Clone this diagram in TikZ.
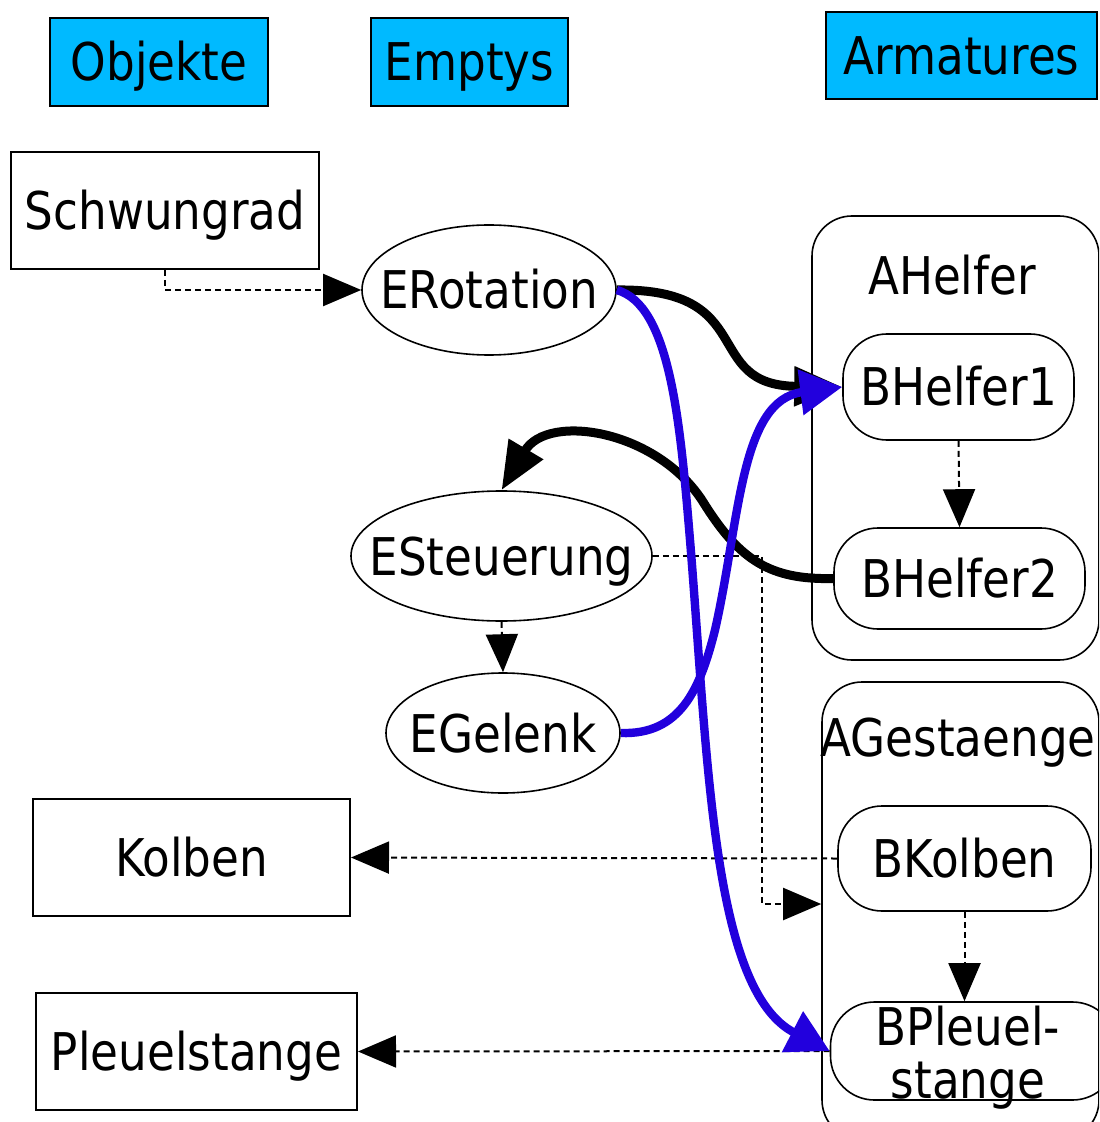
\documentclass[tikz,border=0pt]{standalone}
\usepackage{fontspec}
\newfontfamily\dfont[FakeStretch=0.87]{DejaVu Sans}
\usetikzlibrary{shapes.geometric,arrows.meta}
\definecolor{hdr}{RGB}{0,186,255}
\definecolor{eblue}{RGB}{34,0,221}
\begin{document}
\begin{tikzpicture}[x=0.5pt,y=-0.5pt,
  lblbase/.style={font=\dfont\fontsize{26pt}{26.5pt}\selectfont, inner sep=0pt, align=center},
  lbl/.style={lblbase, text height=19pt, text depth=0pt},
  hdrbox/.style={lbl, draw, line width=1pt, fill=hdr, rectangle},
  objbox/.style={lbl, draw, line width=1pt, rectangle},
  emptyshape/.style={draw, line width=0.8pt, ellipse, inner sep=0pt},
  bonenode/.style={lbl, draw, line width=0.8pt, rectangle, rounded corners=22pt},
  cluster/.style={draw, line width=0.8pt, rectangle, rounded corners=20pt, inner sep=0pt},
  dep/.style={line width=1pt, dash pattern=on 3pt off 2pt, -{Triangle[length=19pt,width=16pt]}},
  blk/.style={line width=4.5pt, -{Triangle[length=24pt,width=19pt]}},
  blu/.style={line width=4.2pt, draw=eblue, -{Triangle[length=21pt,width=22pt]}}
]
\path[use as bounding box] (0,0) rectangle (1099,1122);
\clip (0,0) rectangle (1099,1122);

% headers
\node[hdrbox, minimum width=109pt, minimum height=44pt] (Objekte) at (159,62) {Objekte};
\node[hdrbox, minimum width=98.5pt, minimum height=44pt] (Emptys) at (469.5,62) {Emptys};
\node[hdrbox, minimum width=135.5pt, minimum height=43.5pt] (Armatures) at (961.5,55.5) {Armatures};

% clusters
\node[cluster, minimum width=143.5pt, minimum height=222pt] (AHelfer) at (955.5,438) {};
\node[lbl] (AHelferLbl) at (952,276) {AHelfer};
\node[cluster, minimum width=138.5pt, minimum height=229pt] (AGestaenge) at (960.5,911) {};
\node[lbl] (AGestaengeLbl) at (958,737) {AGestaenge};

% objects
\node[objbox, minimum width=154pt, minimum height=58.5pt] (Schwungrad) at (165,210.5) {Schwungrad};
\node[objbox, minimum width=158.5pt, minimum height=58.5pt] (Kolben) at (191.5,857.5) {Kolben};
\node[objbox, minimum width=160.5pt, minimum height=58.5pt] (Pleuelstange) at (196.5,1051.5) {Pleuelstange};

% empties
\node[emptyshape, minimum width=127pt, minimum height=65pt] (ERotation) at (489,290) {};
\node[lbl] (ERotationLbl) at (489,290) {ERotation};
\node[emptyshape, minimum width=150.5pt, minimum height=65pt] (ESteuerung) at (501.5,556) {};
\node[lbl] (ESteuerungLbl) at (501.5,556) {ESteuerung};
\node[emptyshape, minimum width=117pt, minimum height=60pt] (EGelenk) at (503,733) {};
\node[lbl] (EGelenkLbl) at (503,733) {EGelenk};

% bones
\node[bonenode, minimum width=115.5pt, minimum height=53pt] (BHelfer1) at (958.5,387) {BHelfer1};
\node[bonenode, minimum width=125.5pt, minimum height=50.5pt] (BHelfer2) at (959.5,578.5) {BHelfer2};
\node[bonenode, minimum width=126.5pt, minimum height=52.5pt] (BKolben) at (964.5,858.5) {BKolben};
\node[draw, line width=0.8pt, rectangle, rounded corners=22pt, inner sep=0pt,
      minimum width=143pt, minimum height=49pt] (BPleuelstange) at (973.5,1051) {};
\node[lblbase] (BPleuelstangeLbl) at (968,1058) {BPleuel-\\stange};

% dashed dependencies
\draw[dep] (Schwungrad.south) |- (ERotation.west);
\draw[dep] (ESteuerung.south) -- (EGelenk.north);
\coordinate (jog) at (762,904);
\draw[dep] (ESteuerung.east) -| (jog) -- (AGestaenge.west |- jog);
\draw[dep] (BHelfer1.south) -- (BHelfer2.north);
\draw[dep] (BKolben.south) -- (BPleuelstange.north -| BKolben.south);
\draw[dep] (BKolben.west) -- (Kolben.east);
\draw[dep] (BPleuelstange.west) -- (Pleuelstange.east);

% black constraints
\draw[blk] (ERotation.east) .. controls (760,288) and (700,385) .. (BHelfer1.west);
\draw[blk] (BHelfer2.west) .. controls (770,580) and (740,560) .. (705,505)
  .. controls (660,430) and (548,412) .. (ESteuerung.north);

% blue constraints
\draw[blu] (EGelenk.east) .. controls (680,735) and (700,690) .. (715,630)
  .. controls (740,520) and (740,400) .. (BHelfer1.west);
\draw[blu] (ERotation.east) .. controls (670,305) and (680,420) .. (690,540)
  .. controls (708,760) and (712,990) .. (BPleuelstange.west);
\end{tikzpicture}
\end{document}
